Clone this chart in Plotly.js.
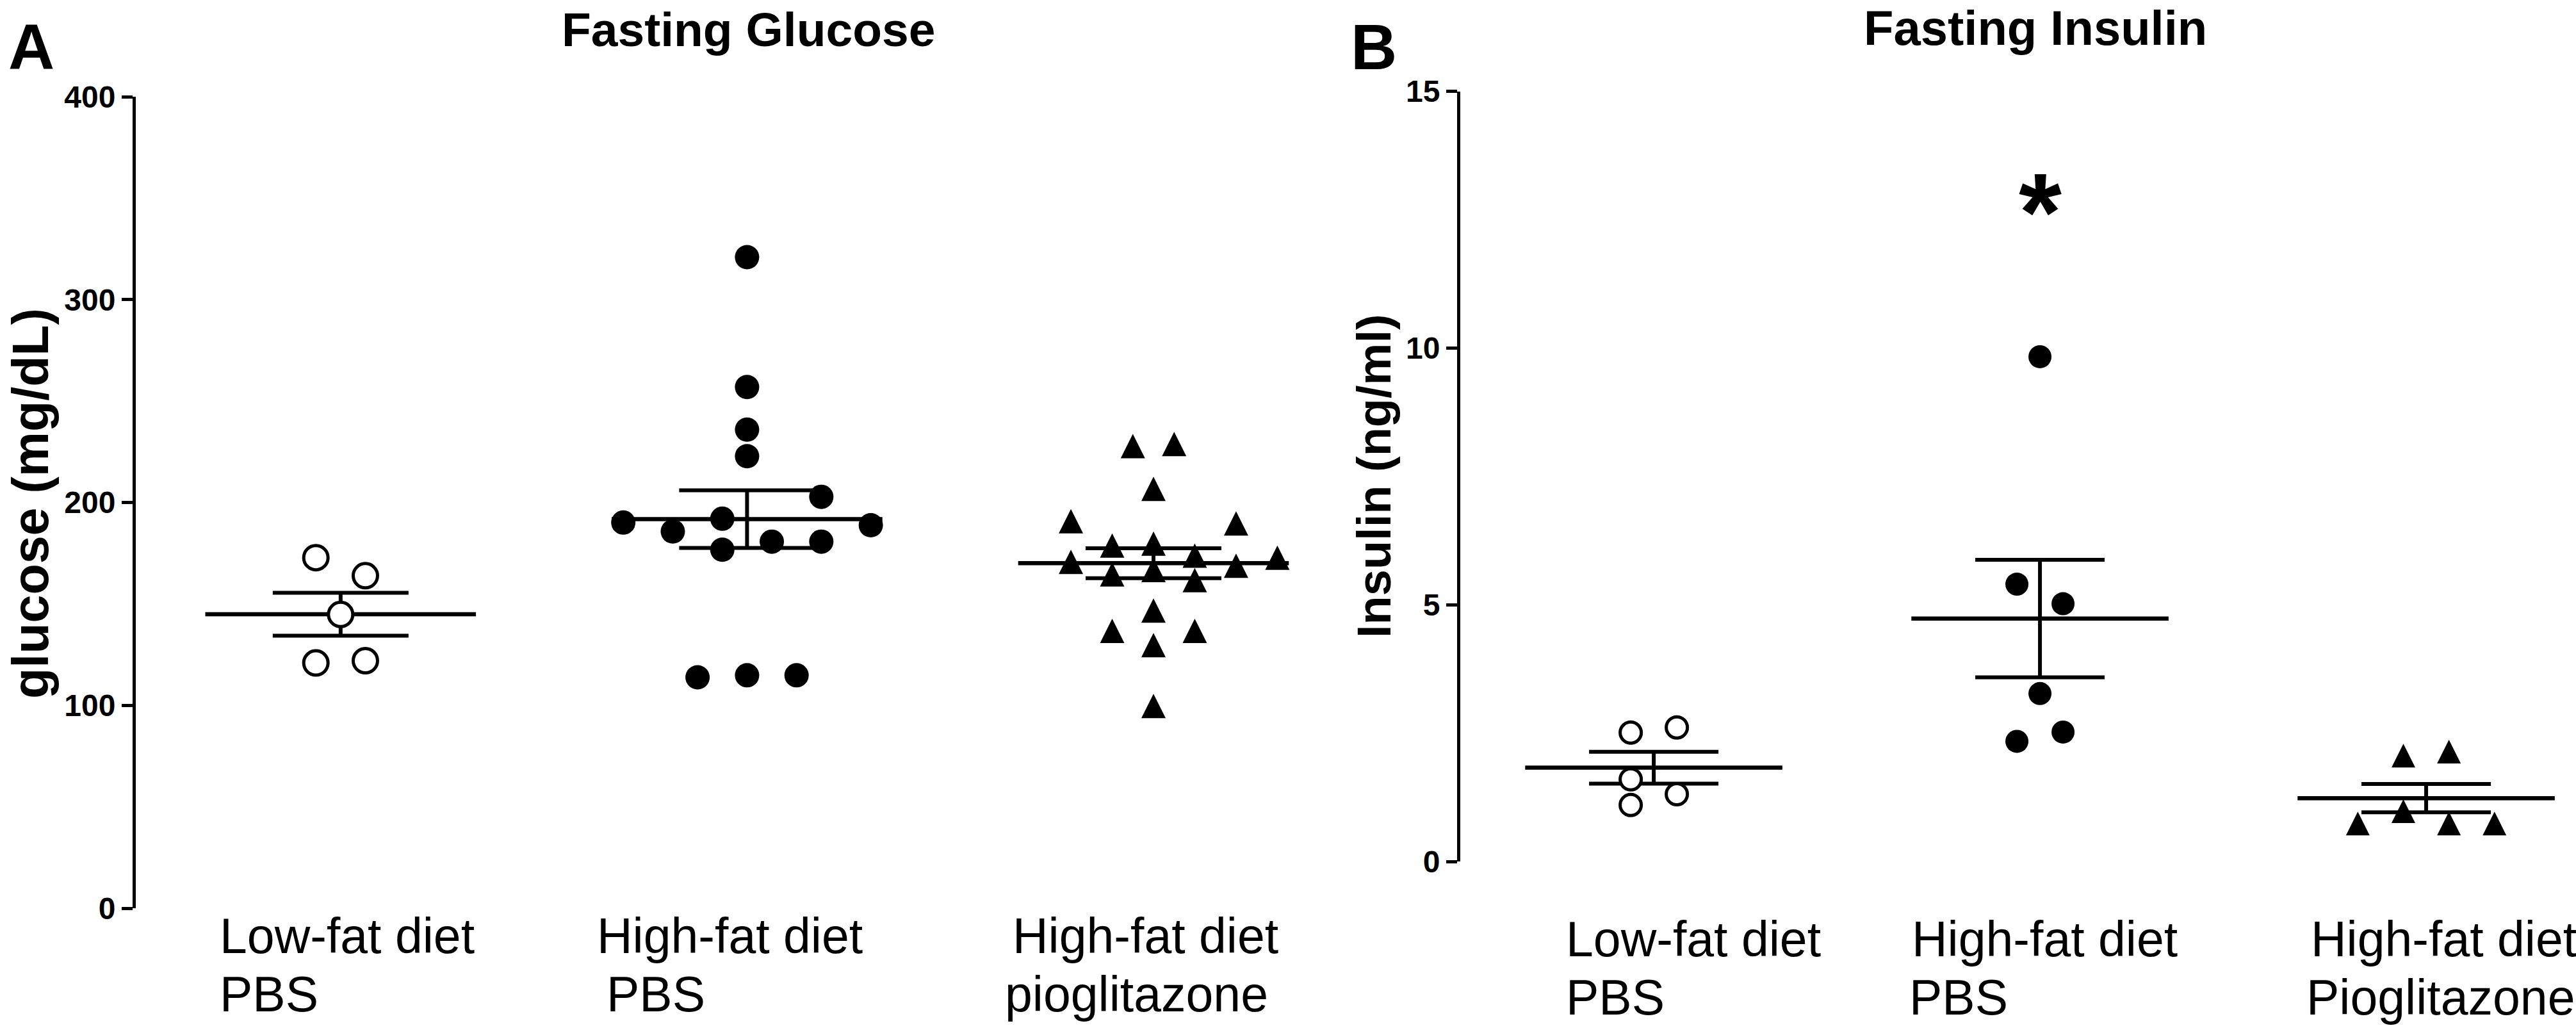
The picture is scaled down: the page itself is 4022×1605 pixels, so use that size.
<!DOCTYPE html>
<html>
<head>
<meta charset="utf-8">
<script src="https://cdn.plot.ly/plotly-3.0.1.min.js"></script>
<style>
html,body{margin:0;padding:0;background:#ffffff;}
#chart{width:4022px;height:1605px;}
</style>
</head>
<body>
<div id="chart"></div>
<script>
// ---------------- data ----------------
const groupLine1 = ['Low-fat diet', 'High-fat diet', 'High-fat diet'];
const glucoseLine2 = ['PBS', 'PBS', 'pioglitazone'];
const insulinLine2 = ['PBS', 'PBS', 'Pioglitazone'];

const glucoseTicks = [0, 100, 200, 300, 400];
const insulinTicks = [0, 5, 10, 15];

// Fasting glucose (mg/dL)
const glucoseLowFatPBS = [172.8, 163.9, 144.8, 120.9, 122.0];
const glucoseHighFatPBS = [320.9, 256.9, 235.9, 222.8, 202.8, 190.1, 192.0, 188.8, 185.7, 176.7, 180.7, 180.7, 113.8, 114.8, 114.8];
const glucoseHighFatPio = [227.8, 228.8, 206.7, 190.8, 189.7, 178.8, 179.7, 173.8, 170.7, 168.8, 172.8, 164.6, 166.7, 161.7, 146.7, 136.7, 136.7, 129.7, 99.7];

// Fasting insulin (ng/ml)
const insulinLowFatPBS = [2.51, 2.61, 1.60, 1.31, 1.10];
const insulinHighFatPBS = [9.83, 5.40, 5.02, 3.27, 2.34, 2.52];
const insulinHighFatPio = [2.06, 2.14, 0.98, 0.74, 0.74, 0.74];

// horizontal scatter slot of each point (column layout of the dot plot)
const glucoseLowFatSlot = [-1, 1, 0, -1, 1];
const glucoseHighFatSlot = [0, 0, 0, 0, 3, -5, -1, 5, -3, -1, 1, 3, -2, 0, 2];
const glucosePioSlot = [-1, 1, 0, -4, 4, -2, 0, 2, -4, 4, 6, -2, 0, 2, 0, -2, 2, 0, 0];
const insulinLowFatSlot = [-1, 1, -1, 1, -1];
const insulinHighFatSlot = [0, -1, 1, 0, -1, 1];
const insulinPioSlot = [-1, 1, -1, -3, 1, 3];

// ---------------- styling ----------------
const FONT = 'Liberation Sans, Arial, Helvetica, sans-serif';
const W = 4022, H = 1605;

function mean(a) { return a.reduce((s, v) => s + v, 0) / a.length; }
function sem(a) {
  const m = mean(a);
  const v = a.reduce((s, x) => s + (x - m) * (x - m), 0) / (a.length - 1);
  return Math.sqrt(v / a.length);
}

const circleOpen = (size) => ({symbol: 'circle', size: size, color: '#ffffff', line: {color: '#000000', width: 5}});
const circleFilled = (size) => ({symbol: 'circle', size: size, color: '#000000', line: {width: 0}});
const triangle = (size) => ({symbol: 'arrow-down', angle: 180, standoff: size / 2, size: size, color: '#000000', line: {width: 0}});

function groupTraces(values, slots, idx, slotUnit, marker, xa, ya, capPx) {
  const m = mean(values), s = sem(values);
  const stats = {
    type: 'scatter', mode: 'markers', x: [idx], y: [m], xaxis: xa, yaxis: ya,
    marker: {size: 2, color: 'rgba(0,0,0,0)'},
    error_x: {type: 'constant', value: 0.333, width: 0, thickness: 6.5, color: '#000000'},
    error_y: {type: 'data', array: [s], symmetric: true, width: capPx, thickness: 6, color: '#000000'},
    hoverinfo: 'skip', showlegend: false
  };
  const pts = {
    type: 'scatter', mode: 'markers', xaxis: xa, yaxis: ya,
    x: slots.map(k => idx + k * slotUnit), y: values,
    marker: marker, hoverinfo: 'skip', showlegend: false, cliponaxis: false
  };
  return [stats, pts];
}

const traces = [].concat(
  groupTraces(glucoseLowFatPBS, glucoseLowFatSlot, 0, 0.0609, circleOpen(38), 'x', 'y', 106),
  groupTraces(glucoseHighFatPBS, glucoseHighFatSlot, 1, 0.0609, circleFilled(38), 'x', 'y', 106),
  groupTraces(glucoseHighFatPio, glucosePioSlot, 2, 0.0508, triangle(38), 'x', 'y', 106),
  groupTraces(insulinLowFatPBS, insulinLowFatSlot, 0, 0.0597, circleOpen(33), 'x2', 'y2', 101),
  groupTraces(insulinHighFatPBS, insulinHighFatSlot, 1, 0.0597, circleFilled(36), 'x2', 'y2', 101),
  groupTraces(insulinHighFatPio, insulinPioSlot, 2, 0.059, triangle(37), 'x2', 'y2', 101)
);

const yAxisStyle = {
  showline: true, linecolor: '#000000', linewidth: 5,
  ticks: 'outside', ticklen: 17, tickwidth: 5, tickcolor: '#000000',
  showgrid: false, zeroline: false, tickmode: 'array',
  tickfont: {family: FONT, size: 48, color: '#000000', weight: 'bold'},
  fixedrange: true
};

const annotations = [];
function txt(o) { annotations.push(Object.assign({showarrow: false, borderpad: 0}, o)); }

// panel letters and titles
txt({text: 'A', xref: 'paper', yref: 'paper', x: 12 / W, y: 1 - 73 / H, xanchor: 'left', yanchor: 'middle',
     font: {family: FONT, size: 100, color: '#000', weight: 'bold'}});
txt({text: 'B', xref: 'paper', yref: 'paper', x: 2108 / W, y: 1 - 73 / H, xanchor: 'left', yanchor: 'middle',
     font: {family: FONT, size: 100, color: '#000', weight: 'bold'}});
txt({text: 'Fasting Glucose', xref: 'paper', yref: 'paper', x: 1168 / W, y: 1 - 46 / H, xanchor: 'center', yanchor: 'middle',
     font: {family: FONT, size: 75, color: '#000', weight: 'bold'}});
txt({text: 'Fasting Insulin', xref: 'paper', yref: 'paper', x: 3178 / W, y: 1 - 44 / H, xanchor: 'center', yanchor: 'middle',
     font: {family: FONT, size: 76, color: '#000', weight: 'bold'}});

// y axis titles
txt({text: 'glucose (mg/dL)', xref: 'paper', yref: 'paper', x: 47 / W, y: 1 - 786 / H, textangle: -90,
     xanchor: 'center', yanchor: 'middle', font: {family: FONT, size: 79, color: '#000', weight: 'bold'}});
txt({text: 'Insulin (ng/ml)', xref: 'paper', yref: 'paper', x: 2145 / W, y: 1 - 743 / H, textangle: -90,
     xanchor: 'center', yanchor: 'middle', font: {family: FONT, size: 74, color: '#000', weight: 'bold'}});

// category labels (two left-aligned lines)
const labelFont = {family: FONT, size: 77, color: '#000'};
const glucoseShift1 = [-190, -235, -221];
const glucoseShift2 = [-190, -220, -233];
const insulinShift1 = [-138, -201, -181];
const insulinShift2 = [-138, -205, -188];
for (let i = 0; i < 3; i++) {
  txt({text: groupLine1[i], xref: 'x', yref: 'paper', x: i, xshift: glucoseShift1[i], y: 1 - 1461 / H, xanchor: 'left', yanchor: 'middle', font: labelFont});
  txt({text: glucoseLine2[i], xref: 'x', yref: 'paper', x: i, xshift: glucoseShift2[i], y: 1 - 1552 / H, xanchor: 'left', yanchor: 'middle', font: labelFont});
  txt({text: groupLine1[i], xref: 'x2', yref: 'paper', x: i, xshift: insulinShift1[i], y: 1 - 1466 / H, xanchor: 'left', yanchor: 'middle', font: labelFont});
  txt({text: insulinLine2[i], xref: 'x2', yref: 'paper', x: i, xshift: insulinShift2[i], y: 1 - 1557 / H, xanchor: 'left', yanchor: 'middle', font: labelFont});
}

// significance star
txt({text: '*', xref: 'x2', yref: 'y2', x: 1, y: 13.0, yshift: -28, xanchor: 'center', yanchor: 'middle',
     font: {family: FONT, size: 172, color: '#000', weight: 'bold'}});

const layout = {
  width: W, height: H,
  margin: {l: 0, r: 0, t: 0, b: 0, pad: 0},
  paper_bgcolor: '#ffffff', plot_bgcolor: '#ffffff',
  showlegend: false, hovermode: false,
  xaxis: {domain: [212 / W, 2150 / W], range: [-0.504, 2.550], visible: false, anchor: 'y', fixedrange: true},
  yaxis: Object.assign({}, yAxisStyle, {domain: [1 - 1418 / H, 1 - 151 / H], range: [0, 400], tickvals: glucoseTicks, anchor: 'x'}),
  xaxis2: {domain: [2280 / W, 1], range: [-0.501, 2.388], visible: false, anchor: 'y2', fixedrange: true},
  yaxis2: Object.assign({}, yAxisStyle, {domain: [1 - 1345 / H, 1 - 142.5 / H], range: [0, 15], tickvals: insulinTicks, anchor: 'x2'}),
  annotations: annotations
};

Plotly.newPlot('chart', traces, layout, {staticPlot: true, displayModeBar: false});
</script>
</body>
</html>
